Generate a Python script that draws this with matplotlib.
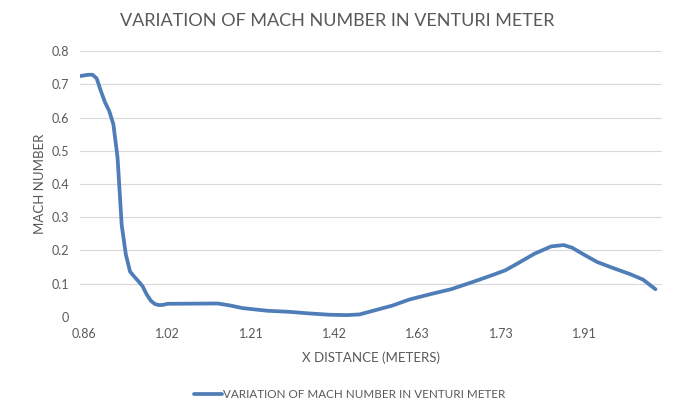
import matplotlib
matplotlib.use("Agg")
import matplotlib.pyplot as plt

# sample number along the (category) x axis and the mach number
sample = [0, 1, 2, 3, 4, 5, 6, 7, 8, 9, 10, 11, 12, 13, 14, 15, 16, 17, 18, 19,
          20, 21, 33, 36, 39, 45, 50, 55, 60, 64, 67, 70, 75, 79, 84, 89, 94,
          99, 102, 105, 109, 113, 116, 118, 121, 124, 128, 132, 135, 138]
mach = [0.725, 0.727, 0.729, 0.729, 0.718, 0.680, 0.646, 0.620, 0.580, 0.480,
        0.276, 0.187, 0.136, 0.121, 0.107, 0.092, 0.067, 0.048, 0.038, 0.035,
        0.036, 0.039, 0.040, 0.034, 0.026, 0.018, 0.015, 0.010, 0.006, 0.005,
        0.007, 0.017, 0.034, 0.052, 0.068, 0.083, 0.104, 0.126, 0.140, 0.161,
        0.190, 0.212, 0.216, 0.208, 0.186, 0.165, 0.146, 0.128, 0.112, 0.083]

# category labels shown on the x axis (every 20th sample)
tick_samples = [1, 21, 41, 61, 81, 101, 121]
tick_labels = ["0.86", "1.02", "1.21", "1.42", "1.63", "1.73", "1.91"]

plt.rcParams['font.family'] = ['Lato', 'DejaVu Sans']
gray = '#595959'

fig = plt.figure(figsize=(6.78, 4.03), dpi=100)
ax = fig.add_axes([0.118, 0.214, 0.858, 0.659])

ax.plot(sample, mach, color='#4f7db8', linewidth=2.7, solid_capstyle='round',
        solid_joinstyle='round', label='VARIATION OF MACH NUMBER IN VENTURI METER')

ax.set_xlim(0, 139.5)
ax.set_ylim(0, 0.8)
ax.set_yticks([0, 0.1, 0.2, 0.3, 0.4, 0.5, 0.6, 0.7, 0.8])
ax.set_yticklabels(['0', '0.1', '0.2', '0.3', '0.4', '0.5', '0.6', '0.7', '0.8'])
ax.set_xticks(tick_samples)
ax.set_xticklabels(tick_labels)
ax.tick_params(length=0, labelsize=9, labelcolor=gray, pad=8)
ax.grid(axis='y', color='#d9d9d9', linewidth=0.8)
ax.set_axisbelow(True)
for s in ax.spines.values():
    s.set_visible(False)

ax.set_xlabel('X DISTANCE (METERS)', fontsize=9.5, color=gray, labelpad=8)
ax.set_ylabel('MACH NUMBER', fontsize=9.5, color=gray, labelpad=4)
fig.text(0.497, 0.948, 'VARIATION OF MACH NUMBER IN VENTURI METER',
         ha='center', va='center', fontsize=13, color=gray)

fig.legend(loc='center', bbox_to_anchor=(0.516, 0.02), frameon=False,
           fontsize=8.4, labelcolor=gray, handlelength=2.4, handletextpad=0.1)

fig.savefig('out.png', dpi=100)
